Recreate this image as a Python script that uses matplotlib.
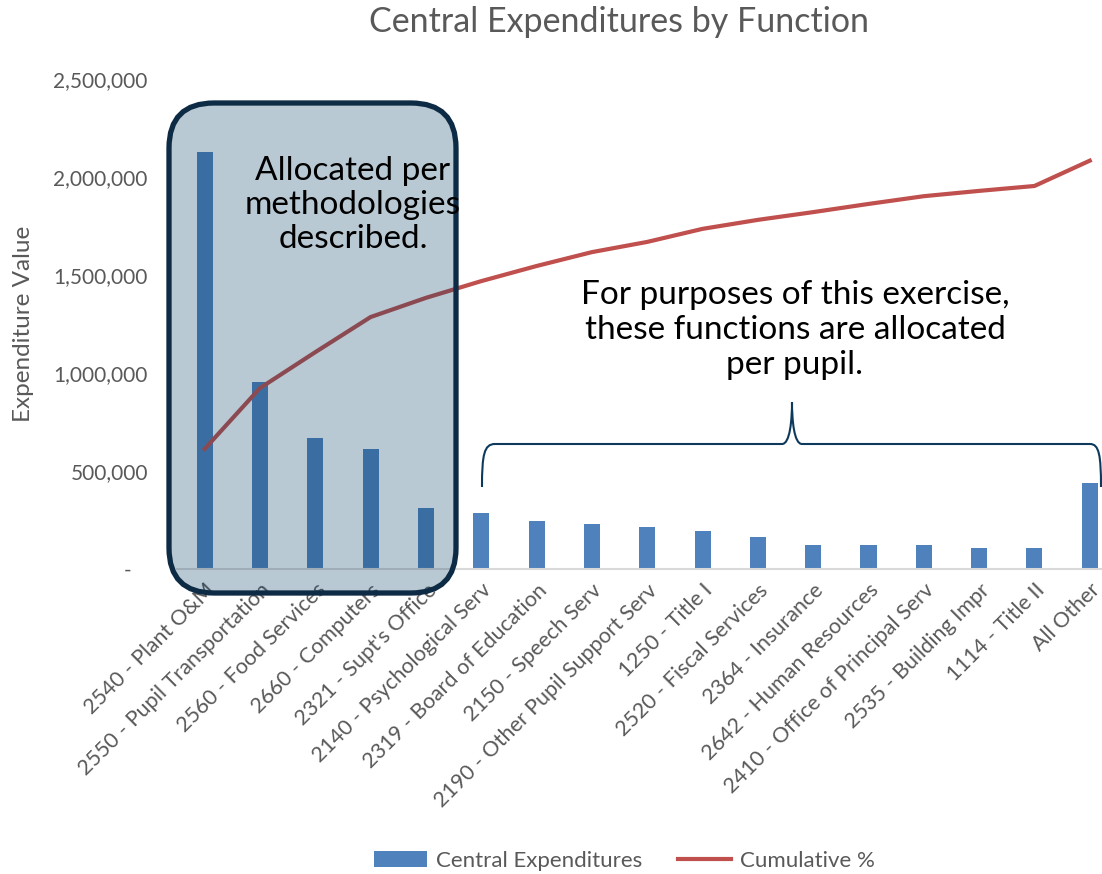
import matplotlib.pyplot as plt
import numpy as np
from matplotlib.patches import FancyBboxPatch, PathPatch
from matplotlib.path import Path
from matplotlib.ticker import FuncFormatter

plt.rcParams['font.family'] = ['Lato', 'DejaVu Sans']

# data
functions = ["2540 - Plant O&M", "2550 - Pupil Transportation", "2560 - Food Services",
             "2660 - Computers", "2321 - Supt's Office", "2140 - Psychological Serv",
             "2319 - Board of Education", "2150 - Speech Serv", "2190 - Other Pupil Support Serv",
             "1250 - Title I", "2520 - Fiscal Services", "2364 - Insurance",
             "2642 - Human Resources", "2410 - Office of Principal Serv", "2535 - Building Impr",
             "1114 - Title II", "All Other"]
expenditures = [2128000, 954000, 668000, 612000, 311000, 286000, 245000, 230000, 214000,
                194000, 163000, 122000, 122000, 122000, 107000, 107000, 439000]
cumulative_pct = [29.4, 44.3, 53.1, 61.7, 66.4, 70.5, 74.2, 77.6, 80.1,
                  83.3, 85.5, 87.4, 89.4, 91.3, 92.6, 93.8, 100.0]

bar_color = "#4F81BD"
line_color = "#C0504D"
grey = "#595959"

fig = plt.figure(figsize=(11.02, 8.74), dpi=100)
ax = fig.add_axes([0.1606, 0.349, 0.8534, 0.5606])
x = np.arange(len(functions))

ax.bar(x, expenditures, width=0.29, color=bar_color, label="Central Expenditures", zorder=2)
ax.set_xlim(-0.5, len(functions) - 0.5)
ax.set_ylim(0, 2500000)
ax.set_yticks([0, 500000, 1000000, 1500000, 2000000, 2500000])
ax.yaxis.set_major_formatter(FuncFormatter(lambda v, p: "-   " if v == 0 else f"{int(v):,}"))
ax.tick_params(axis='y', length=0, pad=21, labelsize=15, labelcolor=grey)
ax.set_ylabel("Expenditure Value", fontsize=17.5, color=grey, labelpad=14)

ax.set_xticks(x)
ax.set_xticklabels(functions, rotation=45, ha='right', va='top', rotation_mode='anchor',
                   fontsize=15.5, color=grey)
ax.tick_params(axis='x', length=0, pad=8)

for s in ['top', 'right', 'left']:
    ax.spines[s].set_visible(False)
ax.spines['bottom'].set_color("#D9D9D9")
ax.spines['bottom'].set_linewidth(1.5)

# cumulative line on hidden secondary axis
ax2 = ax.twinx()
ax2.plot(x, cumulative_pct, color=line_color, linewidth=3, label="Cumulative %", zorder=3)
ax2.set_ylim(0, 120)
ax2.set_yticks([])
for s in ax2.spines.values():
    s.set_visible(False)

# title
fig.text(0.5617, 1 - 22 / 874, "Central Expenditures by Function", ha='center', va='center',
         fontsize=24.5, color=grey)

# rounded highlight box (inches)
box = FancyBboxPatch((1.69, 2.81), 2.87, 4.90,
                     boxstyle="round,pad=0,rounding_size=0.45",
                     transform=fig.dpi_scale_trans, facecolor=(0.02, 0.24, 0.38, 0.28),
                     edgecolor="#0D2B45", linewidth=3.8, zorder=5)
fig.add_artist(box)

fig.text(3.53, 8.74 - 2.05, "Allocated per\nmethodologies\ndescribed.", transform=fig.dpi_scale_trans,
         ha='center', va='center', fontsize=24, color='black', linespacing=1.15, zorder=6)

fig.text(7.95, 8.74 - 3.30, "For purposes of this exercise,\nthese functions are allocated\nper pupil.",
         transform=fig.dpi_scale_trans, ha='center', va='center', fontsize=24, color='black',
         linespacing=1.2, zorder=6)

# curly brace (pixels -> inches)
def px(xp, yp):
    return (xp / 100, (874 - yp) / 100)

verts = [px(482, 487), px(482, 455), px(484, 444), px(495, 444),
         px(782, 444),
         px(790, 444), px(792, 420), px(792, 402),
         px(792, 420), px(794, 444), px(802, 444),
         px(1090, 444),
         px(1099, 444), px(1101, 455), px(1101, 487)]
codes = [Path.MOVETO, Path.CURVE4, Path.CURVE4, Path.CURVE4,
         Path.LINETO,
         Path.CURVE4, Path.CURVE4, Path.CURVE4,
         Path.CURVE4, Path.CURVE4, Path.CURVE4,
         Path.LINETO,
         Path.CURVE4, Path.CURVE4, Path.CURVE4]
brace = PathPatch(Path(verts, codes), transform=fig.dpi_scale_trans, facecolor='none',
                  edgecolor="#0D3A5C", linewidth=1.5, zorder=6)
fig.add_artist(brace)

# legend
h1, l1 = ax.get_legend_handles_labels()
h2, l2 = ax2.get_legend_handles_labels()
fig.legend(h1 + h2, l1 + l2, loc='center', bbox_to_anchor=(0.5665, 1 - 861 / 874), ncol=2,
           frameon=False, fontsize=16, labelcolor=grey, handlelength=2.4, columnspacing=1.6,
           handletextpad=0.4)

fig.savefig("out.png", dpi=100)
